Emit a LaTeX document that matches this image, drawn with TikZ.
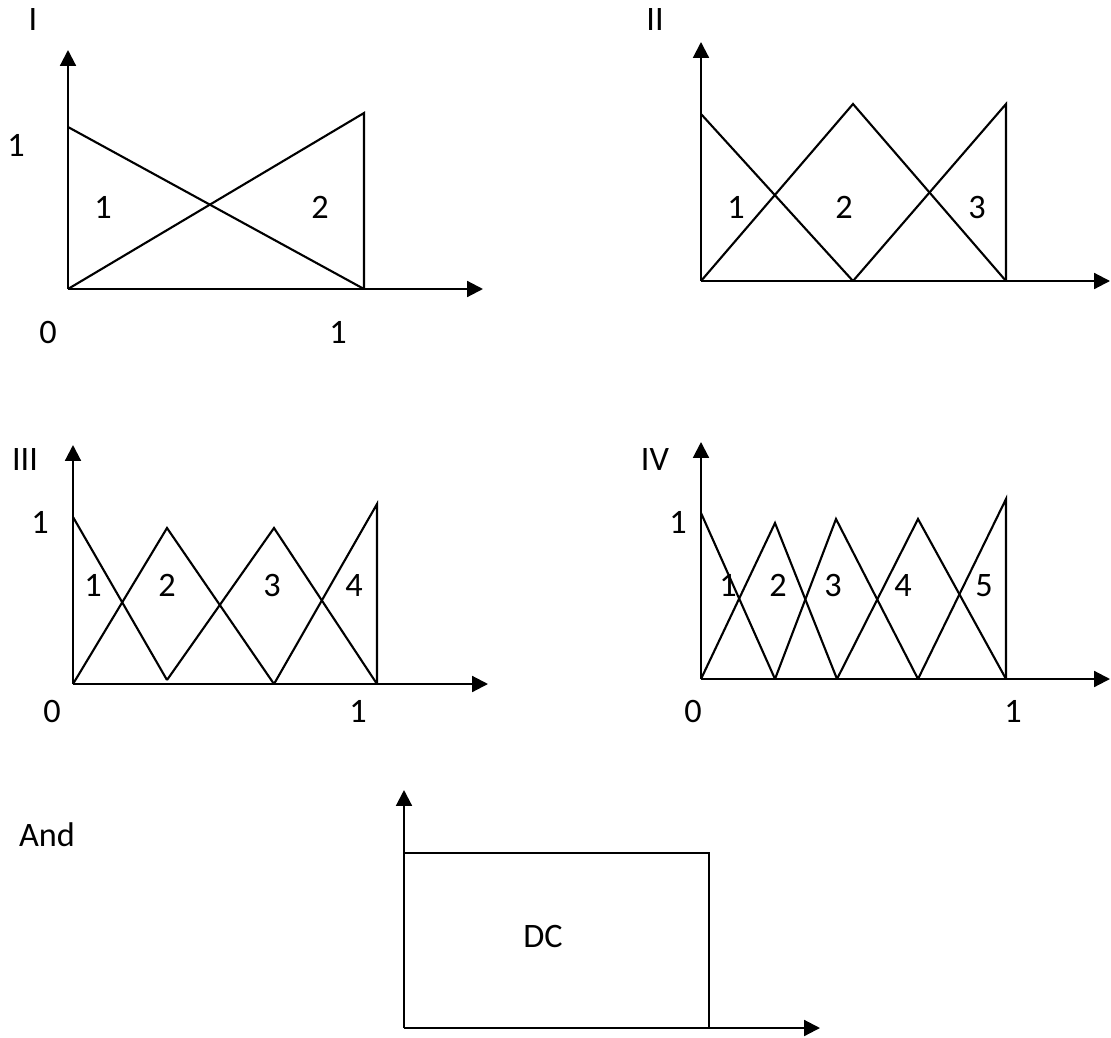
\documentclass[tikz,border=0pt]{standalone}
\usepackage{fontspec}
\setmainfont{Carlito}
\usetikzlibrary{arrows.meta}

\begin{document}
\begin{tikzpicture}[x=0.02cm, y=-0.02cm, line width=1.2pt,
        font=\fontsize{19.5}{23}\selectfont,
        every node/.style={text height=12.3pt, text depth=0pt},
        axis/.style={-{Triangle[length=9pt, width=9pt]}}]
    \useasboundingbox (0,0) rectangle (1111,1037);
    % panel I
    \coordinate (oI) at (68,289);
    \draw[axis] (oI) -- (68,50);
    \draw[axis] (oI) -- (483,289);
    \draw (68,127) -- (364,289);
    \draw (oI) -- (364,113) -- (364,289);
    \node (tI) at (33,20) {I};
    \node (yI) at (16,146) {1};
    \node (aI) at (103,208) {1};
    \node (bI) at (320,208) {2};
    \node (zI) at (48,333) {0};
    \node (xI) at (338,333) {1};
    % panel II
    \coordinate (oII) at (701,281);
    \draw[axis] (oII) -- (701,42);
    \draw[axis] (oII) -- (1110,281);
    \draw (701,114) -- (853,281);
    \draw (oII) -- (853,104) -- (1006,281);
    \draw (853,281) -- (1006,104) -- (1006,281);
    \node (tII) at (655,20) {II};
    \node (aII) at (736,208) {1};
    \node (bII) at (844,208) {2};
    \node (cII) at (977,208) {3};
    % panel III
    \coordinate (oIII) at (73,684);
    \draw[axis] (oIII) -- (73,445);
    \draw[axis] (oIII) -- (488,684);
    \draw (73,517) -- (167,680);
    \draw (oIII) -- (167,528) -- (274,684);
    \draw (167,680) -- (274,528) -- (377,684);
    \draw (274,684) -- (377,504) -- (377,684);
    \node (tIII) at (25,460) {III};
    \node (yIII) at (40,523) {1};
    \node (aIII) at (93,586) {1};
    \node (bIII) at (167,586) {2};
    \node (cIII) at (272,586) {3};
    \node (dIII) at (354,586) {4};
    \node (zIII) at (52,712) {0};
    \node (xIII) at (358,712) {1};
    % panel IV
    \coordinate (oIV) at (701,679);
    \draw[axis] (oIV) -- (701,442);
    \draw[axis] (oIV) -- (1110,679);
    \draw (701,513) -- (775,679);
    \draw (oIV) -- (775,523) -- (837,679);
    \draw (775,679) -- (836,519) -- (918,679);
    \draw (837,679) -- (918,519) -- (1006,679);
    \draw (918,679) -- (1006,499) -- (1006,679);
    \node (tIV) at (655,460) {IV};
    \node (yIV) at (678,523) {1};
    \node (aIV) at (728,586) {1};
    \node (bIV) at (778,586) {2};
    \node (cIV) at (833,586) {3};
    \node (dIV) at (903,586) {4};
    \node (eIV) at (984,586) {5};
    \node (zIV) at (693,712) {0};
    \node (xIV) at (1013,712) {1};
    % DC
    \coordinate (oDC) at (404,1028);
    \draw[axis] (oDC) -- (404,790);
    \draw[axis] (oDC) -- (820,1028);
    \draw (404,853) -- (709,853) -- (709,1028);
    \node (and) at (47,836) {And};
    \node (dc) at (543,937) {DC};
\end{tikzpicture}
\end{document}
